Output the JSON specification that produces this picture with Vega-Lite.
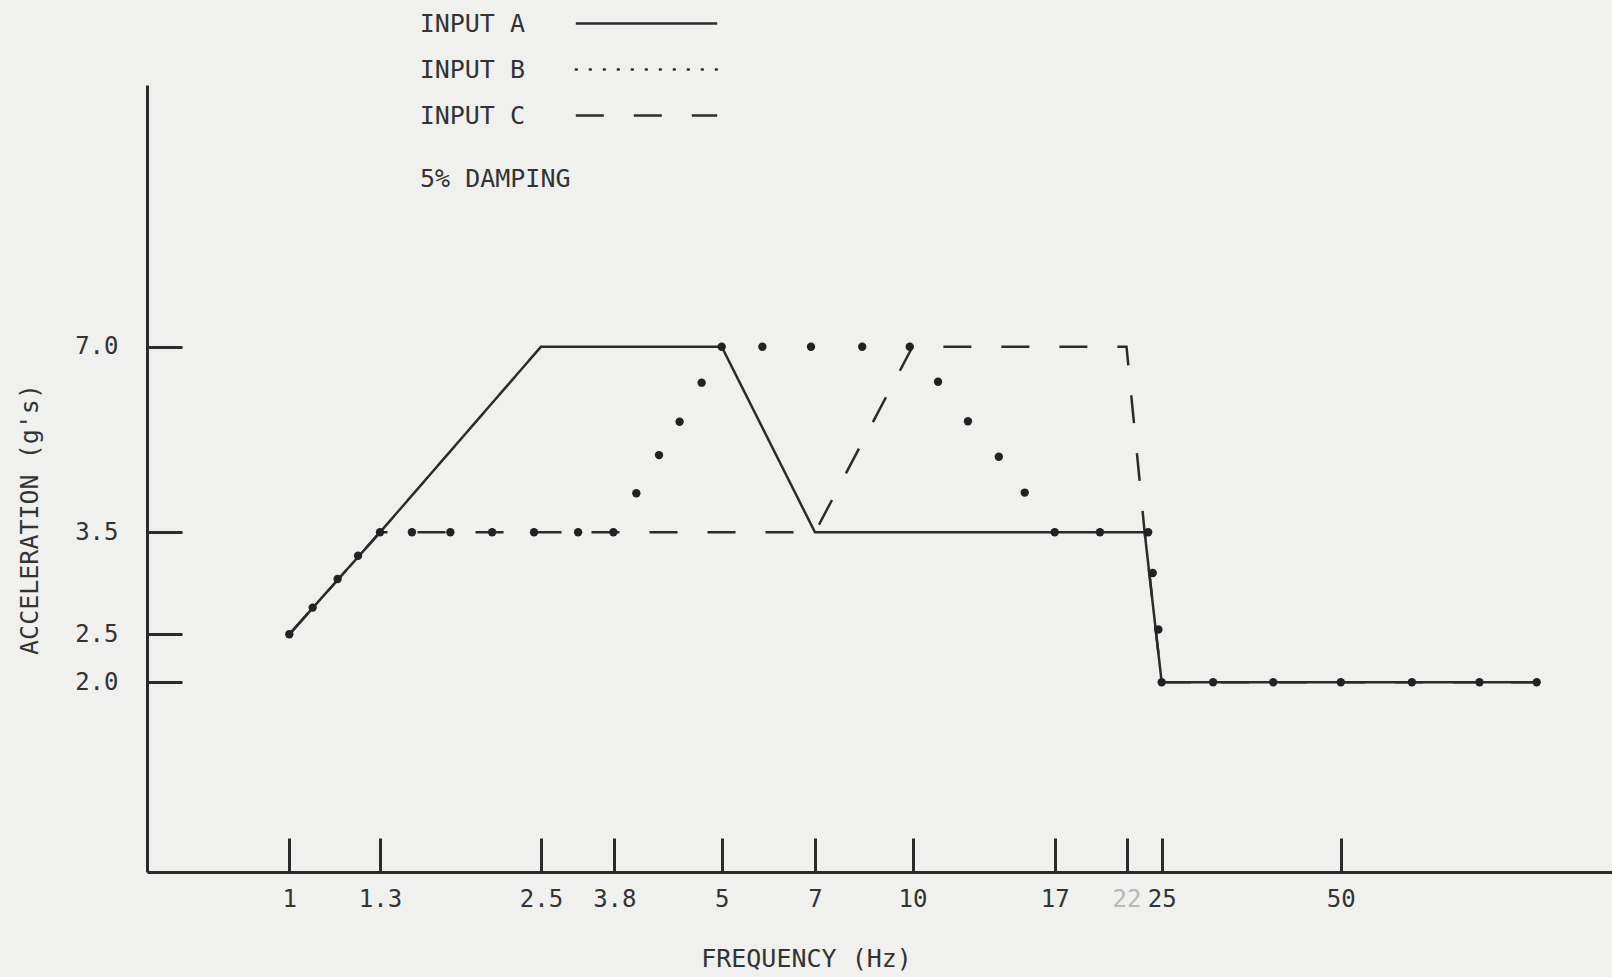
{
  "$schema": "https://vega.github.io/schema/vega-lite/v6.json",
  "width": 1465,
  "height": 787,
  "autosize": {"type": "none"},
  "padding": {"left": 147, "top": 85, "right": 0, "bottom": 105},
  "background": "#f0f0ee",
  "config": {"view": {"stroke": null}, "font": "DejaVu Sans Mono"},
  "title": {
    "text": "5% DAMPING",
    "anchor": "start",
    "frame": "group",
    "orient": "top",
    "offset": 0,
    "dx": 273,
    "dy": 201,
    "baseline": "alphabetic",
    "font": "DejaVu Sans Mono",
    "fontSize": 25,
    "fontWeight": "normal",
    "color": "#333333"
  },
  "datasets": {
    "curves": [
      {"series": "INPUT A", "freq": 1, "acc": 2.5},
      {"series": "INPUT A", "freq": 1.3, "acc": 3.5},
      {"series": "INPUT A", "freq": 2.5, "acc": 7.0},
      {"series": "INPUT A", "freq": 5, "acc": 7.0},
      {"series": "INPUT A", "freq": 7, "acc": 3.5},
      {"series": "INPUT A", "freq": 23.5, "acc": 3.5},
      {"series": "INPUT A", "freq": 25, "acc": 2.0},
      {"series": "INPUT A", "freq": 103, "acc": 2.0},
      {"series": "INPUT C", "freq": 1, "acc": 2.5},
      {"series": "INPUT C", "freq": 1.3, "acc": 3.5},
      {"series": "INPUT C", "freq": 7, "acc": 3.5},
      {"series": "INPUT C", "freq": 10, "acc": 7.0},
      {"series": "INPUT C", "freq": 22, "acc": 7.0},
      {"series": "INPUT C", "freq": 23.5, "acc": 3.5},
      {"series": "INPUT C", "freq": 25, "acc": 2.0},
      {"series": "INPUT C", "freq": 103, "acc": 2.0},
      {"series": "INPUT B", "freq": 1, "acc": 2.5},
      {"series": "INPUT B", "freq": 1.07, "acc": 2.73},
      {"series": "INPUT B", "freq": 1.15, "acc": 3.0},
      {"series": "INPUT B", "freq": 1.22, "acc": 3.24},
      {"series": "INPUT B", "freq": 1.3, "acc": 3.5},
      {"series": "INPUT B", "freq": 1.48, "acc": 3.5},
      {"series": "INPUT B", "freq": 1.73, "acc": 3.5},
      {"series": "INPUT B", "freq": 2.05, "acc": 3.5},
      {"series": "INPUT B", "freq": 2.43, "acc": 3.5},
      {"series": "INPUT B", "freq": 3.09, "acc": 3.5},
      {"series": "INPUT B", "freq": 3.78, "acc": 3.5},
      {"series": "INPUT B", "freq": 4.02, "acc": 4.05},
      {"series": "INPUT B", "freq": 4.26, "acc": 4.67},
      {"series": "INPUT B", "freq": 4.49, "acc": 5.29},
      {"series": "INPUT B", "freq": 4.75, "acc": 6.12},
      {"series": "INPUT B", "freq": 5, "acc": 7.0},
      {"series": "INPUT B", "freq": 5.79, "acc": 7.0},
      {"series": "INPUT B", "freq": 6.9, "acc": 7.0},
      {"series": "INPUT B", "freq": 8.32, "acc": 7.0},
      {"series": "INPUT B", "freq": 9.9, "acc": 7.0},
      {"series": "INPUT B", "freq": 11.0, "acc": 6.14},
      {"series": "INPUT B", "freq": 12.3, "acc": 5.3},
      {"series": "INPUT B", "freq": 13.8, "acc": 4.64},
      {"series": "INPUT B", "freq": 15.2, "acc": 4.06},
      {"series": "INPUT B", "freq": 17, "acc": 3.5},
      {"series": "INPUT B", "freq": 20, "acc": 3.5},
      {"series": "INPUT B", "freq": 23.8, "acc": 3.5},
      {"series": "INPUT B", "freq": 24.2, "acc": 3.06},
      {"series": "INPUT B", "freq": 24.7, "acc": 2.54},
      {"series": "INPUT B", "freq": 25, "acc": 2.0},
      {"series": "INPUT B", "freq": 30.5, "acc": 2.0},
      {"series": "INPUT B", "freq": 38.5, "acc": 2.0},
      {"series": "INPUT B", "freq": 50, "acc": 2.0},
      {"series": "INPUT B", "freq": 65, "acc": 2.0},
      {"series": "INPUT B", "freq": 83.4, "acc": 2.0},
      {"series": "INPUT B", "freq": 103, "acc": 2.0}
    ]
  },
  "data": {"name": "curves"},
  "encoding": {
    "x": {
      "field": "freq",
      "type": "quantitative",
      "scale": {
        "type": "log",
        "nice": false,
        "zero": false,
        "domain": [0.59, 1, 1.3, 2.5, 3.8, 5, 7, 10, 17, 22, 25, 50, 136],
        "range": [0, 142.3, 233, 394, 467.3, 574.7, 668, 765.5, 907.7, 979.5, 1014.7, 1193.8, 1465]
      },
      "axis": {
        "title": "FREQUENCY (Hz)",
        "values": [1, 1.3, 2.5, 3.8, 5, 7, 10, 17, 22, 25, 50],
        "format": "~g",
        "grid": false,
        "domainColor": "#2b2b2b",
        "domainWidth": 3,
        "tickColor": "#2b2b2b",
        "tickWidth": 3,
        "tickSize": -34,
        "labelPadding": 49,
        "labelFont": "DejaVu Sans Mono",
        "labelFontSize": 24,
        "labelColor": {"condition": {"test": "datum.value == 22", "value": "#b8b8b8"}, "value": "#333333"},
        "labelBaseline": "top",
        "labelFlush": false,
        "labelOverlap": false,
        "titleFont": "DejaVu Sans Mono",
        "titleFontSize": 25,
        "titleFontWeight": "normal",
        "titleColor": "#333333",
        "titleX": 659,
        "titleY": 86,
        "titleAlign": "center",
        "titleBaseline": "middle"
      }
    },
    "y": {
      "field": "acc",
      "type": "quantitative",
      "scale": {
        "type": "log",
        "nice": false,
        "zero": false,
        "domain": [1, 2, 2.5, 3.5, 7, 18.6],
        "range": [787, 597.3, 549.3, 447.3, 261.7, 0]
      },
      "axis": {
        "title": "ACCELERATION (g's)",
        "values": [2, 2.5, 3.5, 7],
        "format": ".1f",
        "grid": false,
        "domainColor": "#2b2b2b",
        "domainWidth": 3,
        "tickColor": "#2b2b2b",
        "tickWidth": 3,
        "tickSize": -35,
        "labelPadding": 64,
        "labelFont": "DejaVu Sans Mono",
        "labelFontSize": 24,
        "labelColor": "#333333",
        "labelBaseline": "middle",
        "labelFlush": false,
        "labelOverlap": false,
        "titleFont": "DejaVu Sans Mono",
        "titleFontSize": 25,
        "titleFontWeight": "normal",
        "titleColor": "#333333",
        "titleX": -118,
        "titleY": 434,
        "titleAlign": "center",
        "titleBaseline": "middle"
      }
    }
  },
  "layer": [
    {
      "transform": [
        {"filter": "datum.series !== 'INPUT B'"},
        {"calculate": "datum.series", "as": "dashkey"}
      ],
      "mark": {"type": "line", "strokeWidth": 2.5},
      "encoding": {
        "strokeDash": {
          "field": "dashkey",
          "type": "nominal",
          "scale": {
            "domain": ["INPUT A", "INPUT B", "INPUT C"],
            "range": [[1, 0], [1, 13], [28, 30]]
          },
          "legend": null
        },
        "color": {
          "field": "series",
          "type": "nominal",
          "scale": {
            "domain": ["INPUT A", "INPUT B", "INPUT C"],
            "range": ["#2b2b2b", "#2b2b2b", "#2b2b2b"]
          },
          "legend": {
            "title": null,
            "orient": "none",
            "legendX": 487,
            "legendY": -74,
            "symbolType": "M-10,0H10",
            "symbolSize": 200,
            "symbolStrokeWidth": 2.5,
            "labelFont": "DejaVu Sans Mono",
            "labelFontSize": 25,
            "labelColor": "#333333",
            "labelAlign": "right",
            "labelBaseline": "middle",
            "labelOffset": -134,
            "labelLimit": 400,
            "rowPadding": 20,
            "encode": {
              "symbols": {
                "update": {
                  "strokeDash": {"signal": "datum.value === 'INPUT C' ? [9, 6] : datum.value === 'INPUT B' ? [0.5, 13.5] : [1, 0]"},
                  "strokeCap": {"signal": "datum.value === 'INPUT B' ? 'round' : 'butt'"}
                }
              }
            }
          }
        }
      }
    },
    {
      "transform": [{"filter": "datum.series === 'INPUT B'"}],
      "mark": {"type": "point", "filled": true, "size": 70, "color": "#222222", "opacity": 1}
    }
  ]
}
